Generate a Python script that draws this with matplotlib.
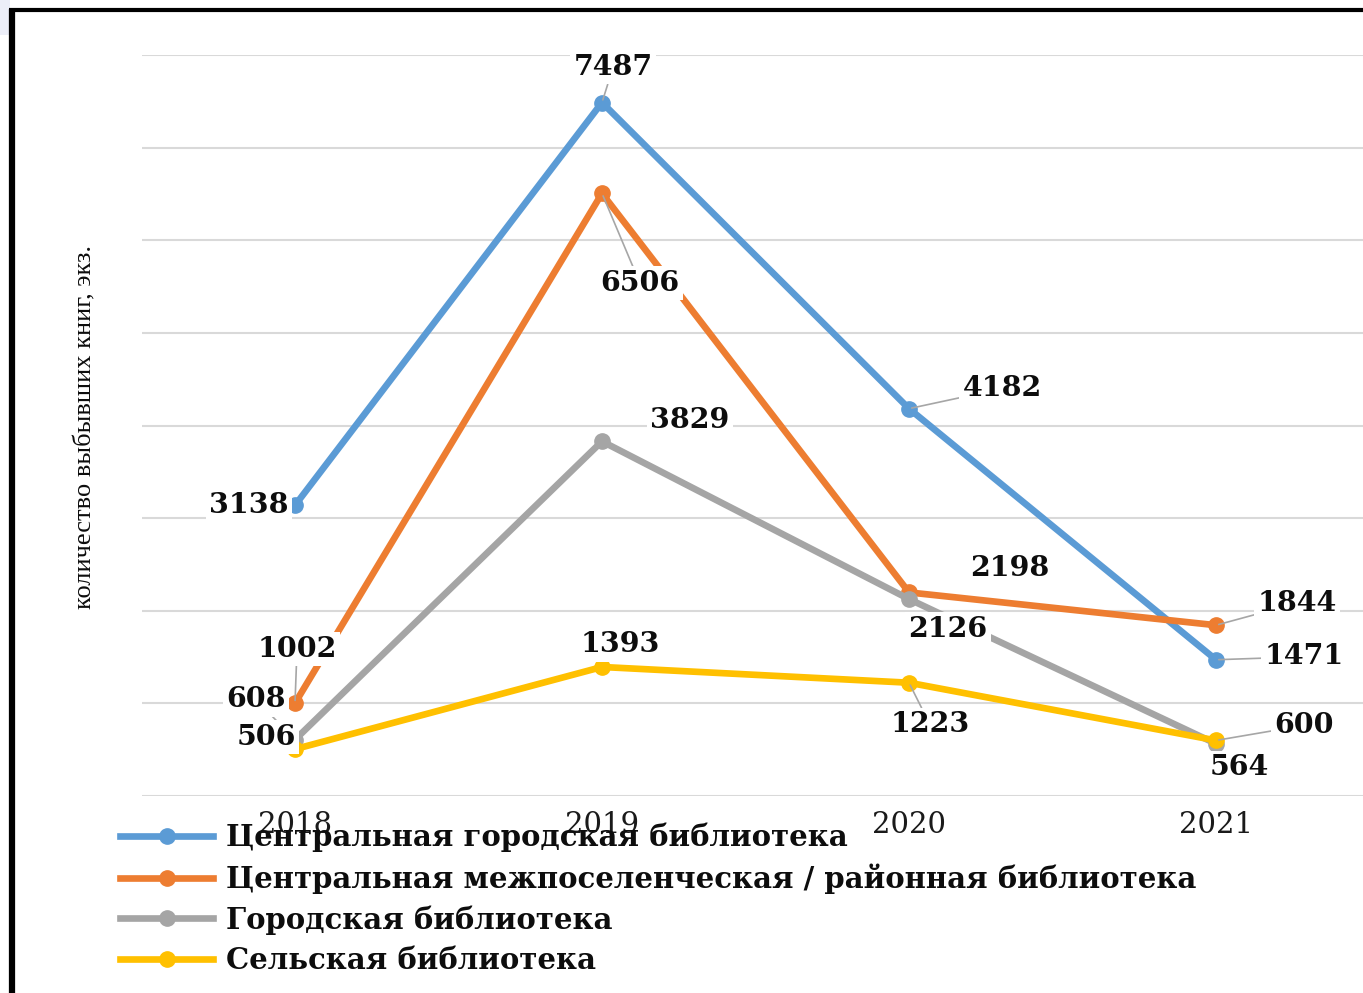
import matplotlib
matplotlib.use('Agg')
import matplotlib.pyplot as plt
from matplotlib.lines import Line2D
from matplotlib.patches import Rectangle

years = ['2018', '2019', '2020', '2021']
series_names = ['Центральная городская библиотека',
                'Центральная межпоселенческая / районная библиотека',
                'Городская библиотека',
                'Сельская библиотека']
central_city = [3138, 7487, 4182, 1471]
central_inter = [1002, 6506, 2198, 1844]
city_lib = [608, 3829, 2126, 564]
rural_lib = [506, 1393, 1223, 600]
colors = ['#5B9BD5', '#ED7D31', '#A5A5A5', '#FFC000']
ylabel = 'количество выбывших книг, экз.'

# label offsets in pixels (dx, dy) relative to the point, and leader flag
offsets = [
    [(-46, 0, False), (11, 35, True), (93, 20, True), (88, 3, True)],
    [(2, 54, True), (38, -90, True), (101, 24, False), (81, 22, True)],
    [(-39, 40, True), (88, 21, False), (39, -30, False), (23, -24, False)],
    [(-29, 12, True), (18, 22, False), (21, -42, True), (88, 15, True)],
]

W, H = 1363, 993
fig = plt.figure(figsize=(W / 100, H / 100), dpi=100)
fig.patch.set_facecolor('white')

ax = fig.add_axes([141.5 / W, (H - 796) / H, 1228 / W, 741 / H])
ax.set_xlim(-0.5, 3.5)
ax.set_ylim(0, 8000)
ax.set_yticks(range(0, 8001, 1000))
ax.grid(axis='y', color='#d9d9d9', lw=1.5, zorder=0)
ax.set_axisbelow(True)
for s in ax.spines.values():
    s.set_visible(False)
ax.set_xticks(range(len(years)))
ax.set_xticklabels(years, family='DejaVu Serif', fontsize=21, color='#1a1a1a')
ax.tick_params(left=False, labelleft=False, bottom=False, pad=7)

all_series = [central_city, central_inter, city_lib, rural_lib]
handles = []
for i, (vals, col) in enumerate(zip(all_series, colors)):
    xs = list(range(len(vals)))
    ax.plot(xs, vals, color=col, lw=4.8, marker='o', ms=11,
            solid_capstyle='round', zorder=3 + i, clip_on=False)
    handles.append(Line2D([], [], color=col, lw=4.8, marker='o', ms=11))

for i, vals in enumerate(all_series):
    for j, v in enumerate(vals):
        dx, dy, lead = offsets[i][j]
        kw = dict(arrowprops=dict(arrowstyle='-', color='#a6a6a6', lw=1.2,
                                  shrinkA=0, shrinkB=2)) if lead else {}
        ax.annotate(f'{v}', xy=(j, v), xytext=(dx, dy), textcoords='offset pixels',
                    ha='center', va='center', family='DejaVu Serif',
                    fontweight='bold', fontsize=20.5, color='#0d0d0d',
                    bbox=dict(boxstyle='square,pad=0.12', fc='white', ec='none'),
                    zorder=20, **kw)

fig.text(85 / W, 1 - 427 / H, ylabel, rotation=90, ha='center', va='center',
         family=['Liberation Serif', 'DejaVu Serif'], fontsize=19,
         color='#0d0d0d')

leg = fig.legend(handles, series_names, loc='upper left',
                 bbox_to_anchor=(120 / W, 1 - 823 / H), frameon=False,
                 borderpad=0, borderaxespad=0, handlelength=3.2,
                 handletextpad=0.45, labelspacing=0.38,
                 prop=dict(family='DejaVu Serif', weight='bold', size=21))
for t in leg.get_texts():
    t.set_color('#0d0d0d')

# frame of the picture
fig.add_artist(Rectangle((0, 1 - 35 / H), 10 / W, 35 / H, transform=fig.transFigure,
                         fc='#eceef8', ec='none', zorder=0))
fig.add_artist(Line2D([11.5 / W, 11.5 / W], [0, 1 - 9 / H], transform=fig.transFigure,
                      color='black', lw=4.5, solid_capstyle='butt'))
fig.add_artist(Line2D([9 / W, 1], [1 - 10 / H, 1 - 10 / H], transform=fig.transFigure,
                      color='black', lw=3, solid_capstyle='butt'))

fig.savefig('out.png', dpi=100)
